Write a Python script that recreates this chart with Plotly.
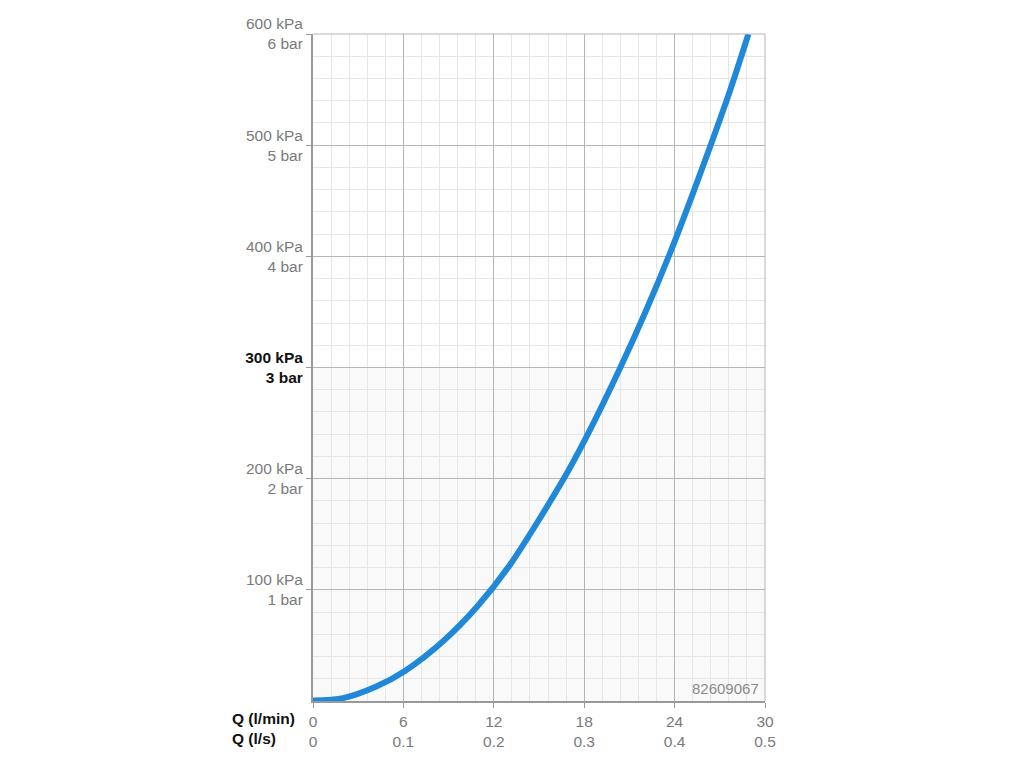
import plotly.graph_objects as go

# Flow rate (l/min) and pressure (kPa)
flow_lpm = [0, 2.0, 4.2, 6.1, 8.65, 10.9, 13.1, 16.6, 18.2, 20.4, 22.1, 23.7, 25.5, 27.6, 28.9]
pressure_kpa = [0.5, 2.6, 13, 27, 54, 85, 123, 199, 239, 300, 351, 403, 467, 546, 600]

x_tickvals = [0, 6, 12, 18, 24, 30]
x_ticktext = ["0<br>0", "6<br>0.1", "12<br>0.2", "18<br>0.3", "24<br>0.4", "30<br>0.5"]
y_tickvals = [100, 200, 300, 400, 500, 600]
y_ticktext = ["100 kPa<br>1 bar", "200 kPa<br>2 bar",
              "<span style='color:#111'><b>300 kPa<br>3 bar</b></span>",
              "400 kPa<br>4 bar", "500 kPa<br>5 bar", "600 kPa<br>6 bar"]
watermark = "82609067"

fig = go.Figure()
fig.add_trace(go.Scatter(
    x=flow_lpm, y=pressure_kpa, mode="lines",
    line=dict(color="#1f88d9", width=6, shape="spline", smoothing=0.8),
    hoverinfo="skip", showlegend=False,
))

fig.add_shape(type="rect", xref="x", yref="y", x0=0, x1=30, y0=0, y1=300,
              fillcolor="#f9f9f9", line=dict(width=0), layer="below")

fig.add_annotation(x=29.75, y=2, xref="x", yref="y", text=watermark, showarrow=False,
                   xanchor="right", yanchor="bottom",
                   font=dict(size=15, color="#8a8a8a"))
fig.add_annotation(x=0, y=0, xref="paper", yref="paper", text="<b>Q (l/min)<br>Q (l/s)</b>",
                   showarrow=False, xanchor="right", yanchor="top", align="left",
                   xshift=-16, yshift=-7, font=dict(size=15.5, color="#111"))

axis_common = dict(showline=True, linecolor="#999999", linewidth=2, mirror=False,
                   showgrid=True, gridcolor="#b5b5b5", gridwidth=1, zeroline=False,
                   ticks="outside", ticklen=5, tickcolor="#999999", tickwidth=1,
                   automargin=False,
                   tickfont=dict(size=15.5, color="#7a7a7a"))

fig.update_xaxes(range=[0, 30], tickvals=x_tickvals, ticktext=x_ticktext,
                 minor=dict(dtick=1.2, tick0=0, showgrid=True, gridcolor="#e6e6e6", gridwidth=1),
                 **axis_common)
fig.update_yaxes(range=[0, 600], tickvals=y_tickvals, ticktext=y_ticktext,
                 minor=dict(dtick=20, tick0=0, showgrid=True, gridcolor="#e6e6e6", gridwidth=1),
                 **axis_common)

# light frame on top/right
fig.add_shape(type="line", xref="paper", yref="paper", x0=0, x1=1, y0=1, y1=1,
              line=dict(color="#b5b5b5", width=1))
fig.add_shape(type="line", xref="paper", yref="paper", x0=1, x1=1, y0=0, y1=1,
              line=dict(color="#b5b5b5", width=1))

fig.update_layout(
    width=1024, height=768,
    margin=dict(l=305, r=267, t=26, b=75, autoexpand=False),
    paper_bgcolor="white", plot_bgcolor="white",
    font=dict(family="Liberation Sans, Arial, sans-serif"),
    showlegend=False,
)

fig.write_html("out.html")
